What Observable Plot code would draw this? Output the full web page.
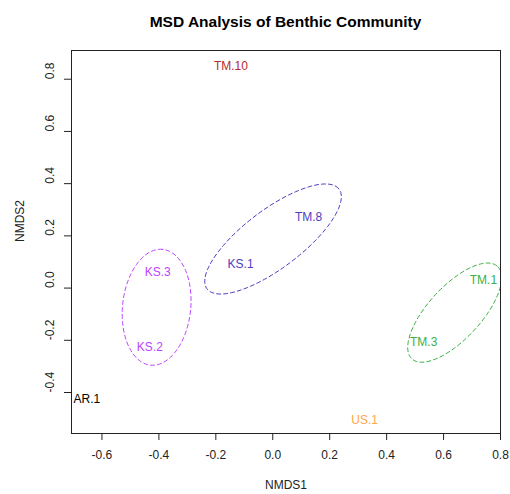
<!DOCTYPE html>
<html><head><meta charset="utf-8">
<script src="https://cdn.jsdelivr.net/npm/d3@7"></script>
<script src="https://cdn.jsdelivr.net/npm/@observablehq/plot@0.6"></script>
<style>
body{margin:0;background:#fff;}
#title{height:40px;box-sizing:border-box;padding:13.6px 10px 0 71px;text-align:center;font:bold 15.5px "Liberation Sans",Arial,sans-serif;line-height:16px;color:#000;}
</style></head><body>
<div id="title">MSD Analysis of Benthic Community</div>
<div id="chart"></div>
<script>
// site scores
const sites  = ["TM.10","KS.3","KS.1","TM.8","KS.2","TM.1","TM.3","AR.1","US.1"];
const nmds1  = [-0.147, -0.404, -0.113, 0.126, -0.432, 0.740, 0.530, -0.653, 0.323];
const nmds2  = [0.851, 0.061, 0.092, 0.272, -0.226, 0.031, -0.207, -0.425, -0.506];
const siteColors = ["#b52a2e","#bf44ff","#4b3dbf","#4b3dbf","#bf44ff","#3cb043","#3cb043","#000000","#ffa64d"];

// group ellipses (center, semi-axes, rotation in degrees)
const ellGroup = ["KS","KS-TM","TM"];
const ellCx    = [-0.408, 0.001, 0.639];
const ellCy    = [-0.0735, 0.188, -0.094];
const ellA     = [0.2227, 0.3006, 0.2326];
const ellB     = [0.1198, 0.1079, 0.0959];
const ellAngle = [84.9, 40.2, 50.7];
const ellColors = ["#bf44ff","#4b3dbf","#3cb043"];

// axes
const xTicks = [-0.6,-0.4,-0.2,0.0,0.2,0.4,0.6,0.8];
const xTickLabels = ["-0.6","-0.4","-0.2","0.0","0.2","0.4","0.6","0.8"];
const yTicks = [-0.4,-0.2,0.0,0.2,0.4,0.6,0.8];
const yTickLabels = ["-0.4","-0.2","0.0","0.2","0.4","0.6","0.8"];

const points = sites.map((s,i)=>({site:s, x:nmds1[i], y:nmds2[i], color:siteColors[i]}));
const ellipseRows = [];
ellGroup.forEach((g,i)=>{
  const th = ellAngle[i]*Math.PI/180;
  for (let k=0;k<=120;k++){
    const t = 2*Math.PI*k/120;
    const u = ellA[i]*Math.cos(t), v = ellB[i]*Math.sin(t);
    ellipseRows.push({group:g, color:ellColors[i],
      x: ellCx[i] + u*Math.cos(th) - v*Math.sin(th),
      y: ellCy[i] + u*Math.sin(th) + v*Math.cos(th)});
  }
});
const xt = xTicks.map((v,i)=>({v, label:xTickLabels[i]}));
const yt = yTicks.map((v,i)=>({v, label:yTickLabels[i]}));

const chart = Plot.plot({
  width: 510, height: 454,
  marginTop: 10, marginBottom: 61, marginLeft: 71, marginRight: 10,
  style: {fontFamily: "'Liberation Sans', Arial, sans-serif", fontSize: "12px", background: "white", overflow: "visible"},
  x: {domain: [-0.707, 0.80]},
  y: {domain: [-0.557, 0.910]},
  marks: [
    Plot.line(ellipseRows, {x:"x", y:"y", z:"group", stroke:"color", strokeWidth:1, strokeDasharray:"4,3", clip:"frame", curve:"linear"}),
    Plot.text(points, {x:"x", y:"y", text:"site", fill:"color", fontSize:12}),
    Plot.frame({stroke:"#222"}),
    Plot.axisX(xTicks, {tickSize:7, tickFormat:()=>"", label:null, stroke:"#222"}),
    Plot.axisY(yTicks, {tickSize:7, tickFormat:()=>"", label:null, stroke:"#222"}),
    Plot.text(xt, {x:"v", text:"label", frameAnchor:"bottom", dy:25, fill:"#222", fontSize:12}),
    Plot.text(yt, {y:"v", text:"label", frameAnchor:"left", dx:-21, rotate:-90, fill:"#222", fontSize:12}),
    Plot.text(["NMDS1"], {text:d=>d, frameAnchor:"bottom", dy:55, fill:"#222", fontSize:12}),
    Plot.text(["NMDS2"], {text:d=>d, frameAnchor:"left", dx:-51, rotate:-90, fill:"#222", fontSize:12})
  ]
});
document.getElementById("chart").appendChild(chart);
</script>
</body></html>
